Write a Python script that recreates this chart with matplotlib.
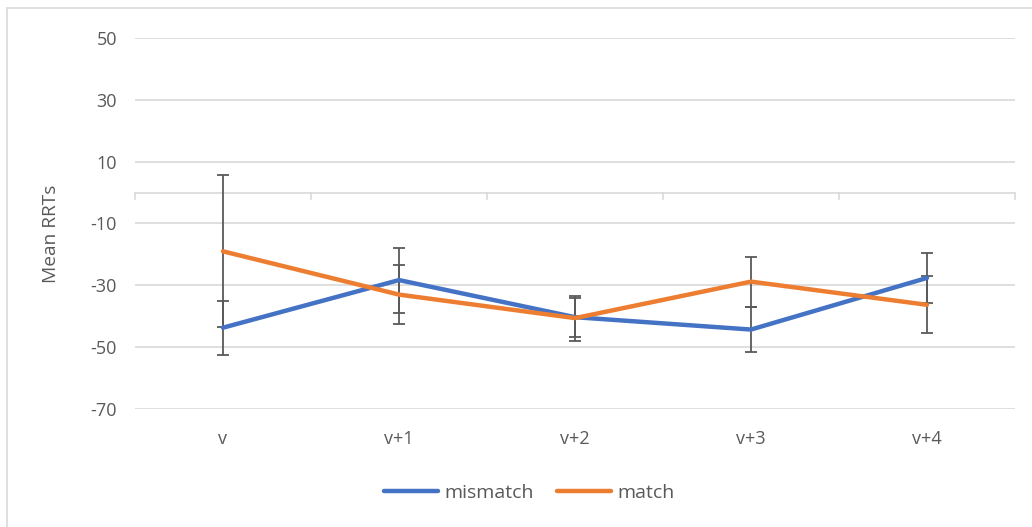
import numpy as np
import matplotlib
matplotlib.use('Agg')
import matplotlib.pyplot as plt
from matplotlib.patches import Rectangle

# 数据
categories = ["v", "v+1", "v+2", "v+3", "v+4"]
mismatch = [-43.7, -28.3, -40.3, -44.3, -27.6]
mismatch_err = [8.7, 10.5, 6.3, 7.2, 8.1]
match = [-19.0, -33.0, -40.6, -28.8, -36.3]
match_err = [24.6, 9.6, 7.3, 8.1, 9.2]
yticks = [-70, -50, -30, -10, 10, 30, 50]

plt.rcParams['font.family'] = ['Open Sans', 'DejaVu Sans']
txt = '#595959'
grid = '#D9D9D9'

W, H = 1032, 527
fig = plt.figure(figsize=(W / 100, H / 100), dpi=100)
ax = fig.add_axes([135 / W, 1 - 409 / H, (1015 - 135) / W, (409 - 38) / H])

x = np.arange(len(categories))
ax.errorbar(x, mismatch, yerr=mismatch_err, fmt='none', ecolor=txt,
            elinewidth=1.3, capsize=4.5, capthick=1.3, zorder=2)
ax.errorbar(x, match, yerr=match_err, fmt='none', ecolor=txt,
            elinewidth=1.3, capsize=4.5, capthick=1.3, zorder=2)
ax.plot(x, mismatch, color='#4472C4', lw=3.2, label='mismatch',
        solid_capstyle='round', solid_joinstyle='round', zorder=3)
ax.plot(x, match, color='#ED7D31', lw=3.2, label='match',
        solid_capstyle='round', solid_joinstyle='round', zorder=3)

ax.set_xlim(-0.5, len(categories) - 0.5)
ax.set_ylim(-70, 50)
ax.set_yticks(yticks)
ax.set_yticklabels([str(t) for t in yticks], color=txt, fontsize=13)
ax.tick_params(axis='y', length=0, pad=13)
for t in yticks:
    ax.axhline(t, color=grid, lw=1.2, zorder=0)

# 类别轴在0处
ax.axhline(0, color=grid, lw=1.2, zorder=1)
for b in np.arange(-0.5, len(categories), 1.0):
    ax.plot([b, b], [0, -2.1], color=grid, lw=1.2, zorder=1, clip_on=False)
ax.set_xticks(x)
ax.set_xticklabels(categories, color=txt, fontsize=13)
ax.tick_params(axis='x', length=0, pad=15)

for s in ax.spines.values():
    s.set_visible(False)

ax.set_ylabel('Mean RRTs', color=txt, fontsize=13.8)
ax.yaxis.set_label_coords(-75 / 880, 1 - (234 - 38) / 371)

leg = ax.legend(loc='center', bbox_to_anchor=((529 - 135) / 880, (409 - 493) / 371),
                ncol=2, frameon=False, fontsize=14, handlelength=2.8,
                handletextpad=0.3, columnspacing=1.2, labelcolor=txt)

# 外框
fig.patches.append(Rectangle((7 / W, -0.1), 1.2, 1 - 8 / H + 0.1,
                             transform=fig.transFigure, fill=False,
                             edgecolor=grid, lw=1.2))

plt.savefig('out.png', dpi=100)
